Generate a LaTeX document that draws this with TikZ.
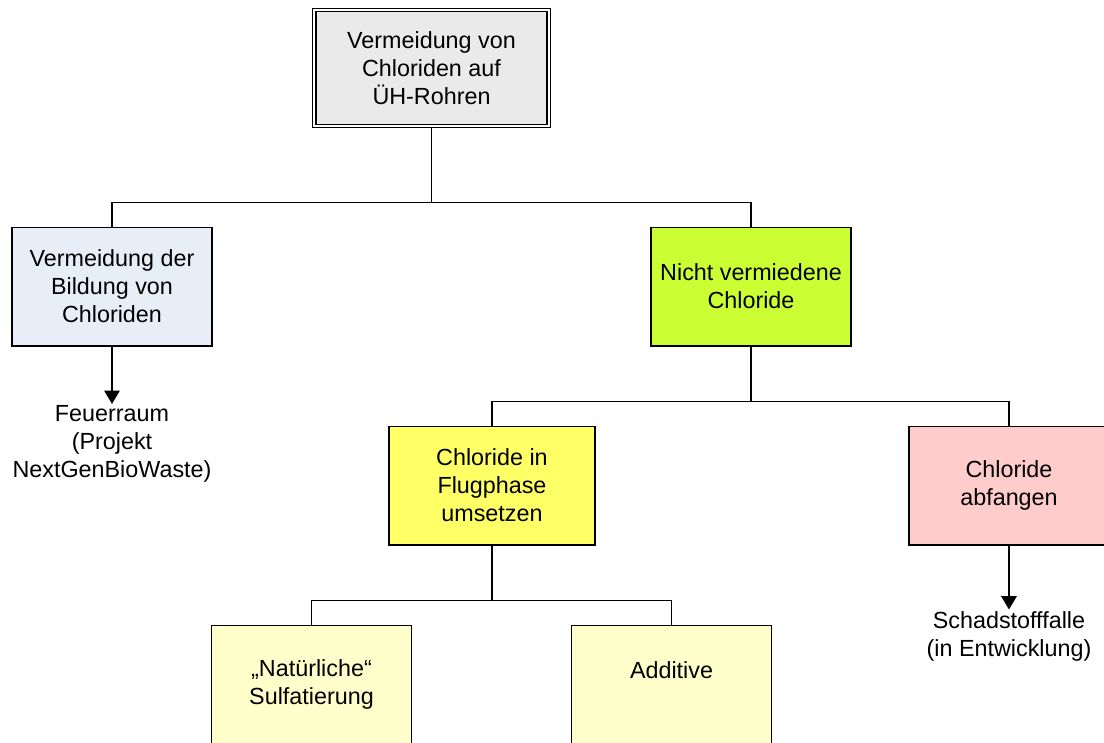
\documentclass[tikz,border=0pt]{standalone}
\usepackage{fontspec}
\setmainfont{Liberation Sans}
\usetikzlibrary{arrows.meta}

\definecolor{grisclair}{HTML}{EAEAEA}
\definecolor{bleuclair}{HTML}{E8EEF8}
\definecolor{vertvif}{HTML}{CCFF33}
\definecolor{jaune}{HTML}{FFFF66}
\definecolor{jaunepale}{HTML}{FFFFCC}
\definecolor{rose}{HTML}{FFCCCC}

\tikzset{
    boite/.style={draw, line width=1pt, minimum width=150pt, minimum height=89pt,
        inner sep=0pt, align=center, font=\fontsize{17.5}{21}\selectfont},
    texte/.style={inner sep=1pt, align=center, font=\fontsize{17.5}{21}\selectfont},
    lien/.style={line width=1.3pt},
    fleche/.style={line width=1.3pt, -{Triangle[width=11.5pt,length=10pt]}},
}

\begin{document}
\begin{tikzpicture}[x=0.75pt, y=-0.75pt]
        \useasboundingbox (0,0) rectangle (1104,743);
        \clip (0,0) rectangle (1104,743);

        % Racine
        \node[boite, fill=grisclair, double, line width=0.9pt, double distance=1.8pt,
            minimum width=176pt, minimum height=87pt] (racine) at (431.5,68)
            {Vermeidung von\\Chloriden auf\\ÜH-Rohren};

        % Premier niveau
        \node[boite, fill=bleuclair] (formation) at (112,286.5)
            {Vermeidung der\\Bildung von\\Chloriden};
        \node[boite, fill=vertvif] (nonevitees) at (751,286.5)
            {Nicht vermiedene\\Chloride};

        % Deuxieme niveau
        \node[boite, fill=jaune, minimum width=154.5pt] (flugphase) at (492,485.5)
            {Chloride in\\Flugphase\\umsetzen};
        \node[boite, fill=rose] (abfangen) at (1009,485.5)
            {Chloride\\abfangen};

        % Troisieme niveau
        \node[boite, fill=jaunepale] (sulfatierung) at (311.5,684.5)
            {„Natürliche“\\Sulfatierung};
        \node[boite, fill=jaunepale] (additive) at (671.5,684.5)
            {Additive\\~};

        % Liaisons
        \draw[lien] (racine.south) -- ++(0,76) coordinate (j1);
        \draw[lien] (formation.north) |- (j1) -| (nonevitees.north);
        \draw[lien] (nonevitees.south) -- ++(0,55) coordinate (j2);
        \draw[lien] (flugphase.north) |- (j2) -| (abfangen.north);
        \draw[lien] (flugphase.south) -- ++(0,55) coordinate (j3);
        \draw[lien] (sulfatierung.north) |- (j3) -| (additive.north);

        % Mesures
        \node[texte] (feuerraum) at (112,444)
            {Feuerraum\\(Projekt\\NextGenBioWaste)};
        \draw[fleche] (formation.south) -- (feuerraum.north);
        \node[texte] (falle) at (1009,636)
            {Schadstofffalle\\(in Entwicklung)};
        \draw[fleche] (abfangen.south) -- (falle.north);
    \end{tikzpicture}
\end{document}
